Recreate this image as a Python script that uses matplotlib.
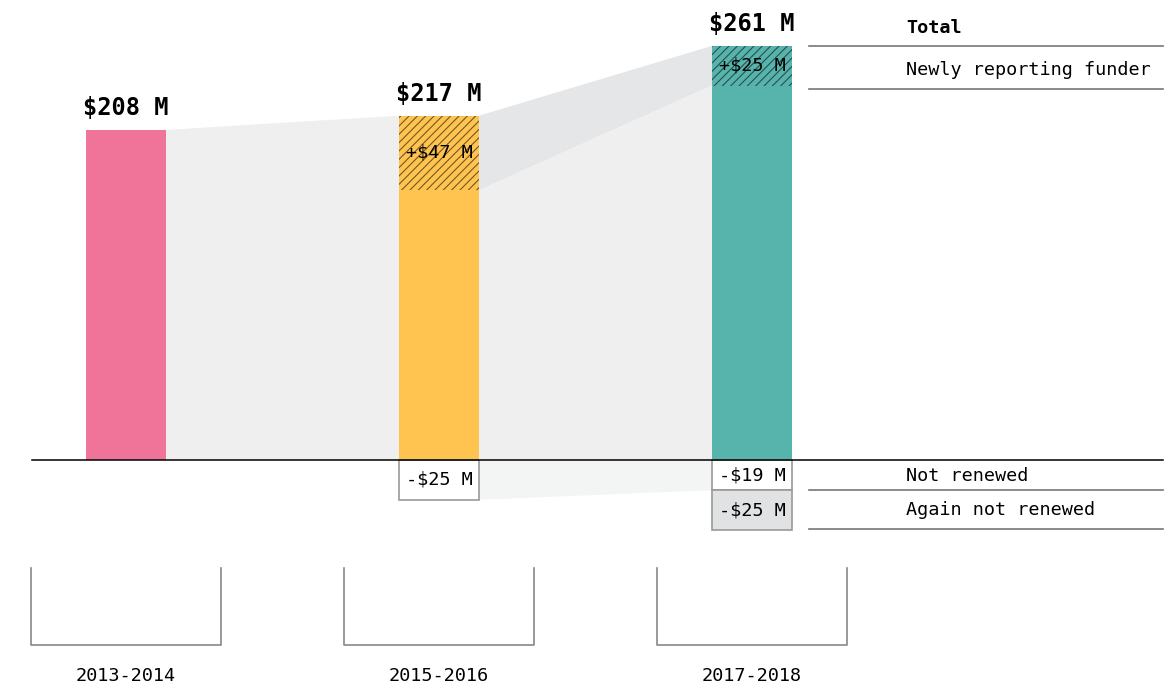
import numpy as np
import matplotlib.pyplot as plt
from matplotlib.patches import Polygon, Rectangle

# ---- data ($ M) ----
periods = ['2013-2014', '2015-2016', '2017-2018']
totals = [208, 217, 261]
newly = [0, 47, 25]
not_renewed = [0, 25, 19]
again_not_renewed = [0, 0, 25]
bar_colors = ['#f07499', '#fec44f', '#57b4ac']
legend_labels = ['Total', 'Newly reporting funder', 'Not renewed', 'Again not renewed']

plt.rcParams['font.family'] = ['DejaVu Sans Mono']
plt.rcParams['hatch.linewidth'] = 0.8

fig = plt.figure(figsize=(11.66, 6.9), dpi=100)
ax = fig.add_axes([0, 0, 1, 1])
ax.set_xlim(-0.4026, 3.3227)
ax.set_ylim(-144.9, 289.9)
ax.axis('off')

x = np.arange(len(periods))
w = 0.2556

# flow bands between bars
# 2013 -> 2015
ax.add_patch(Polygon([(x[0] + w/2, totals[0]), (x[1] - w/2, totals[1]),
                      (x[1] - w/2, 0), (x[0] + w/2, 0)],
                     closed=True, fc='#efefef', ec='none', zorder=1))
# 2015 -> 2017, newly reporting part
top1, mid1 = totals[1], totals[1] - newly[1]
top2, mid2 = totals[2], totals[2] - newly[2]
ax.add_patch(Polygon([(x[1] + w/2, top1), (x[2] - w/2, top2),
                      (x[2] - w/2, mid2), (x[1] + w/2, mid1)],
                     closed=True, fc='#e5e6e8', ec='none', zorder=1))
ax.add_patch(Polygon([(x[1] + w/2, mid1), (x[2] - w/2, mid2),
                      (x[2] - w/2, 0), (x[1] + w/2, 0)],
                     closed=True, fc='#efefef', ec='none', zorder=1))
# negative flow
ax.add_patch(Polygon([(x[1] + w/2, 0), (x[2] - w/2, 0),
                      (x[2] - w/2, -not_renewed[2]), (x[1] + w/2, -not_renewed[1])],
                     closed=True, fc='#f3f4f4', ec='none', zorder=1))

# bars
ax.bar(x, totals, width=w, color=bar_colors, zorder=2)
for i in range(len(periods)):
    if newly[i]:
        ax.bar(x[i], newly[i], bottom=totals[i] - newly[i], width=w,
               color='none', edgecolor=(0, 0, 0, 0.55), hatch='////',
               linewidth=0, zorder=3)
        ax.text(x[i], totals[i] - newly[i] / 2, f'+${newly[i]} M',
                ha='center', va='center', fontsize=13.3, zorder=4)
    ax.text(x[i], totals[i] + 6, f'${totals[i]} M', ha='center', va='bottom',
            fontsize=17, fontweight='bold')

    if not_renewed[i]:
        ax.add_patch(Rectangle((x[i] - w/2, -not_renewed[i]), w, not_renewed[i],
                               fc='white', ec='#999999', lw=1.2, zorder=3))
        ax.text(x[i], -not_renewed[i] / 2, f'-${not_renewed[i]} M',
                ha='center', va='center', fontsize=13.3, zorder=4)
    if again_not_renewed[i]:
        b = -not_renewed[i] - again_not_renewed[i]
        ax.add_patch(Rectangle((x[i] - w/2, b), w, again_not_renewed[i],
                               fc='#e1e2e4', ec='#999999', lw=1.2, zorder=3))
        ax.text(x[i], b + again_not_renewed[i] / 2, f'-${again_not_renewed[i]} M',
                ha='center', va='center', fontsize=13.3, zorder=4)

# baseline
ax.plot([-0.30, 3.313], [0, 0], color='black', lw=1.1, zorder=5)

# legend on the right
lx0, lx1, ltx = 2.182, 3.313, 2.492
ax.text(ltx, 272, legend_labels[0], fontsize=13.3, fontweight='bold', va='center')
ax.plot([lx0, lx1], [261, 261], color='#777777', lw=1.2)
ax.text(ltx, 246, legend_labels[1], fontsize=13.3, va='center')
ax.plot([lx0, lx1], [234, 234], color='#777777', lw=1.2)
ax.text(ltx, -10, legend_labels[2], fontsize=13.3, va='center')
ax.plot([lx0, lx1], [-19, -19], color='#777777', lw=1.2)
ax.text(ltx, -31.5, legend_labels[3], fontsize=13.3, va='center')
ax.plot([lx0, lx1], [-43.5, -43.5], color='#777777', lw=1.2)

# period brackets and labels
for i, p in enumerate(periods):
    ax.plot([x[i] - 0.305, x[i] - 0.305, x[i] + 0.305, x[i] + 0.305],
            [-68, -116.6, -116.6, -68], color='#888888', lw=1.2)
    ax.text(x[i], -136, p, ha='center', va='center', fontsize=13.3)

fig.savefig('out.png', dpi=100)
